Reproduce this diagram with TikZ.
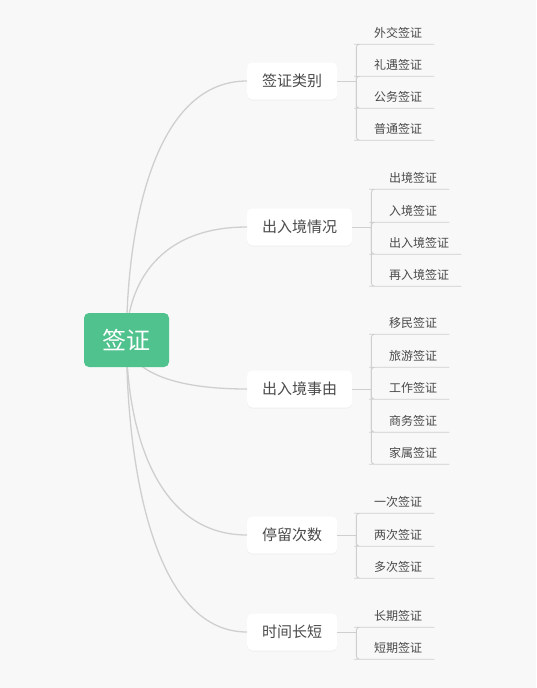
\documentclass[tikz,border=0pt]{standalone}
\usepackage{fontspec}
\setmainfont{Noto Sans CJK SC}
\usepackage{xcolor}
\usetikzlibrary{calc, positioning, shadows}

\definecolor{rootgreen}{HTML}{4FC28D}
\definecolor{canvas}{HTML}{F8F8F8}
\definecolor{linegray}{HTML}{CFCFCF}
\definecolor{textgray}{HTML}{4A4A4A}

\begin{document}
\begin{tikzpicture}[
    x=1pt, y=-1pt,
    root/.style={fill=rootgreen, text=white, rounded corners=5pt, minimum width=85pt, minimum height=54pt, font=\fontsize{24}{24}\selectfont},
    topic/.style={fill=white, text=textgray, rounded corners=5pt, minimum height=37pt, inner xsep=15pt, anchor=west, font=\fontsize{15}{15}\selectfont, drop shadow={opacity=0.07, shadow xshift=0pt, shadow yshift=-1pt}},
    leaf/.style={text=textgray, inner xsep=0pt, inner ysep=0pt, minimum height=22pt, anchor=west, font=\fontsize{12}{12}\selectfont},
    curve/.style={draw=linegray, line width=1.3pt, to path={.. controls ($(\tikztostart)!0.4!(\tikztostart |- \tikztotarget)$) and ($(\tikztotarget)!0.8!(\tikztostart |- \tikztotarget)$) .. (\tikztotarget)}},
    stem/.style={draw=linegray, line width=0.9pt, rounded corners=3pt}
]

\fill[canvas] (0,0) rectangle (536,688);
\useasboundingbox (0,0) rectangle (536,688);

% main topics
\node[topic] (category) at (247,81) {签证类别};
\node[topic] (passage) at (247,227) {出入境情况};
\node[topic] (purpose) at (247,389) {出入境事由};
\node[topic] (stays) at (247,535) {停留次数};
\node[topic] (duration) at (247,632) {时间长短};

\coordinate (hub) at (126.5,340);
\draw[curve] (hub) to (category.west);
\draw[curve] (hub) to (passage.west);
\draw[curve] (hub) to (purpose.west);
\draw[curve] (hub) to (stays.west);
\draw[curve] (hub) to (duration.west);

\node[root] (visa) at (hub) {签证};

% leaves
\coordinate (g1) at ([xshift=19pt]category.east);
\coordinate (g2) at ([xshift=19pt]passage.east);
\coordinate (g3) at ([xshift=19pt]purpose.east);
\coordinate (g4) at ([xshift=19pt]stays.east);
\coordinate (g5) at ([xshift=19pt]duration.east);

\node[leaf] (diplomatic) at (374,33) {外交签证};
\node[leaf] (courtesy) at (374,65) {礼遇签证};
\node[leaf] (official) at (374,97) {公务签证};
\node[leaf] (ordinary) at (374,129) {普通签证};

\node[leaf] (exit) at (389,178) {出境签证};
\node[leaf] (entry) at (389,211) {入境签证};
\node[leaf] (exitentry) at (389,243) {出入境签证};
\node[leaf] (reentry) at (389,275) {再入境签证};

\node[leaf] (immigrant) at (389,323) {移民签证};
\node[leaf] (tourist) at (389,356) {旅游签证};
\node[leaf] (work) at (389,388) {工作签证};
\node[leaf] (business) at (389,421) {商务签证};
\node[leaf] (family) at (389,453) {家属签证};

\node[leaf] (single) at (374,502) {一次签证};
\node[leaf] (double) at (374,535) {两次签证};
\node[leaf] (multiple) at (374,567) {多次签证};

\node[leaf] (longterm) at (374,616) {长期签证};
\node[leaf] (shortterm) at (374,648) {短期签证};

\draw[stem] (category.east) -- (g1);
\draw[stem] (passage.east) -- (g2);
\draw[stem] (purpose.east) -- (g3);
\draw[stem] (stays.east) -- (g4);
\draw[stem] (duration.east) -- (g5);

\draw[stem] (g1) |- ([xshift=-17pt]diplomatic.south west) -- ([xshift=12pt]diplomatic.south east);
\draw[stem] (g1) |- ([xshift=-17pt]courtesy.south west) -- ([xshift=12pt]courtesy.south east);
\draw[stem] (g1) |- ([xshift=-17pt]official.south west) -- ([xshift=12pt]official.south east);
\draw[stem] (g1) |- ([xshift=-17pt]ordinary.south west) -- ([xshift=12pt]ordinary.south east);

\draw[stem] (g2) |- ([xshift=-17pt]exit.south west) -- ([xshift=12pt]exit.south east);
\draw[stem] (g2) |- ([xshift=-17pt]entry.south west) -- ([xshift=12pt]entry.south east);
\draw[stem] (g2) |- ([xshift=-17pt]exitentry.south west) -- ([xshift=12pt]exitentry.south east);
\draw[stem] (g2) |- ([xshift=-17pt]reentry.south west) -- ([xshift=12pt]reentry.south east);

\draw[stem] (g3) |- ([xshift=-17pt]immigrant.south west) -- ([xshift=12pt]immigrant.south east);
\draw[stem] (g3) |- ([xshift=-17pt]tourist.south west) -- ([xshift=12pt]tourist.south east);
\draw[stem] (g3) |- ([xshift=-17pt]work.south west) -- ([xshift=12pt]work.south east);
\draw[stem] (g3) |- ([xshift=-17pt]business.south west) -- ([xshift=12pt]business.south east);
\draw[stem] (g3) |- ([xshift=-17pt]family.south west) -- ([xshift=12pt]family.south east);

\draw[stem] (g4) |- ([xshift=-17pt]single.south west) -- ([xshift=12pt]single.south east);
\draw[stem] (g4) |- ([xshift=-17pt]double.south west) -- ([xshift=12pt]double.south east);
\draw[stem] (g4) |- ([xshift=-17pt]multiple.south west) -- ([xshift=12pt]multiple.south east);

\draw[stem] (g5) |- ([xshift=-17pt]longterm.south west) -- ([xshift=12pt]longterm.south east);
\draw[stem] (g5) |- ([xshift=-17pt]shortterm.south west) -- ([xshift=12pt]shortterm.south east);

\end{tikzpicture}
\end{document}
